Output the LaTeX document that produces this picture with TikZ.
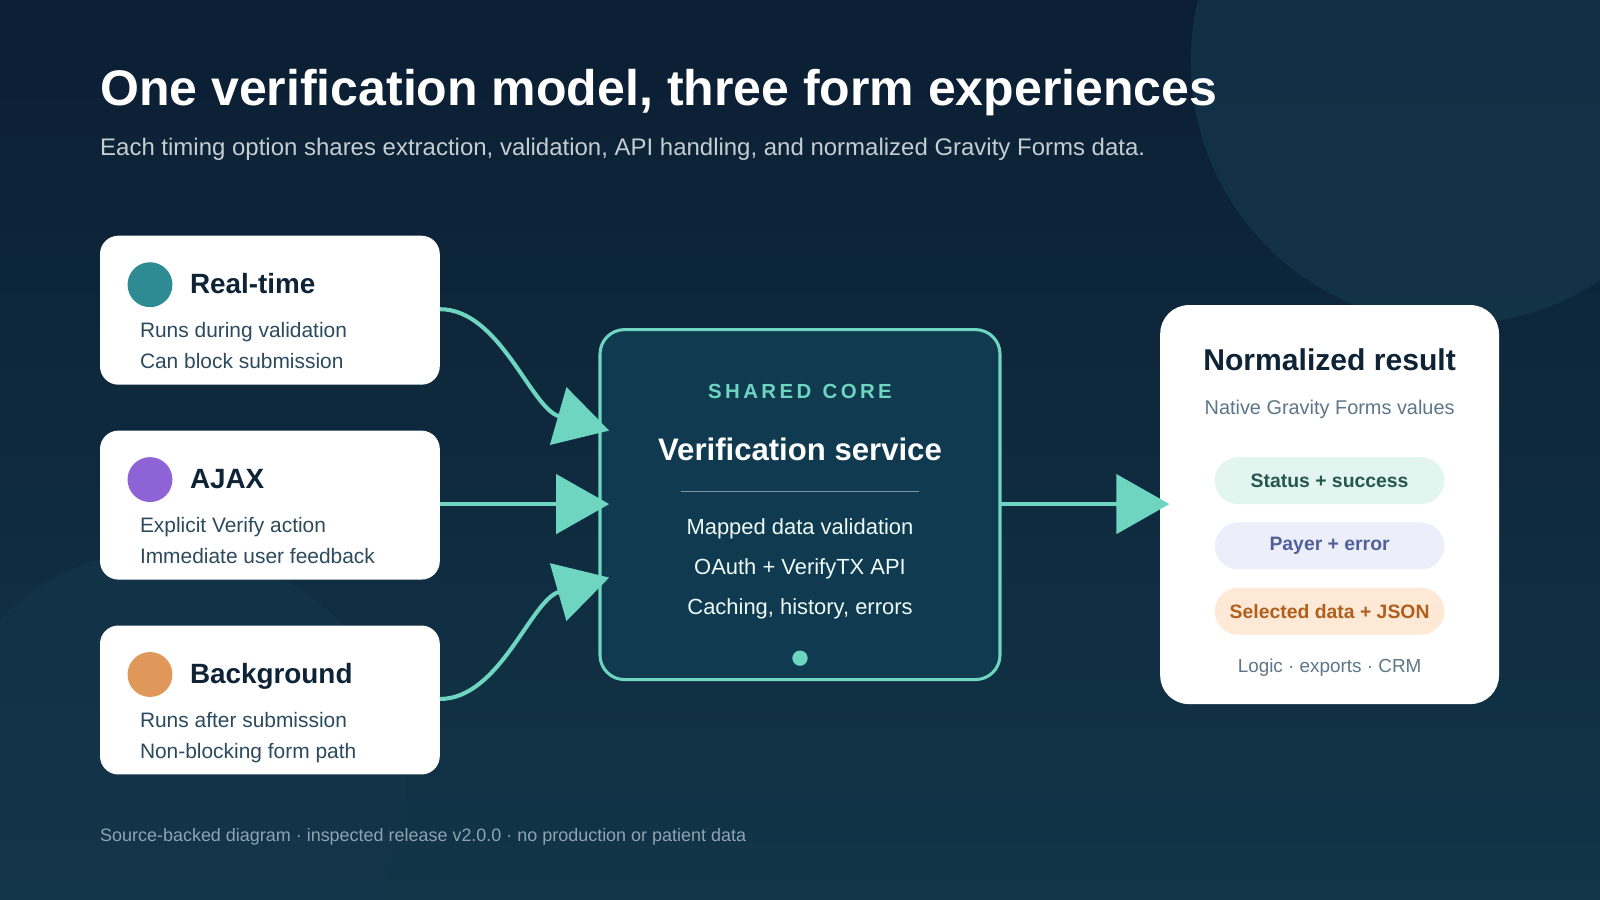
\documentclass[tikz,border=0pt]{standalone}
\usepackage{fontspec}
\setmainfont{Liberation Sans}
\usetikzlibrary{arrows.meta}
\definecolor{bgA}{HTML}{0B1E33}
\definecolor{bgB}{HTML}{123548}
\definecolor{deco}{HTML}{14354A}
\definecolor{ink}{HTML}{0F2336}
\definecolor{sub}{HTML}{2C4A5E}
\definecolor{teal}{HTML}{6DD5C0}
\definecolor{core}{HTML}{0F3A4F}
\definecolor{muted}{HTML}{8DA3B2}
\definecolor{dA}{HTML}{2E8B93}
\definecolor{dB}{HTML}{8E63D6}
\definecolor{dC}{HTML}{E0975A}
\definecolor{gr}{HTML}{5E7688}
\definecolor{pAf}{HTML}{E3F5EF}\definecolor{pAt}{HTML}{24584F}
\definecolor{pBf}{HTML}{ECEEF9}\definecolor{pBt}{HTML}{52609A}
\definecolor{pCf}{HTML}{FDE9D6}\definecolor{pCt}{HTML}{B0601C}
\tikzset{
 card/.style={fill=white,rounded corners=18pt,draw=none},
 ttl/.style={anchor=base west,font=\bfseries\fontsize{27.3}{30}\selectfont,text=ink,inner sep=0},
 txt/.style={anchor=base west,font=\fontsize{20.5}{22}\selectfont,text=sub,inner sep=0},
 flow/.style={draw=teal,line width=4pt,-{Triangle[length=52pt,width=58pt]}},
 item/.style={anchor=base,font=\fontsize{21.5}{24}\selectfont,text=white!88!teal,inner sep=0},
 pill/.style={rounded corners=23pt,minimum width=225pt,minimum height=46pt,font=\bfseries\fontsize{19}{22}\selectfont,inner sep=0}
}
\begin{document}
\begin{tikzpicture}[x=1pt,y=-1pt]
\shade[top color=bgA,bottom color=bgB] (0,0) rectangle (1568,882);
\useasboundingbox (0,0) rectangle (1568,882);
\begin{scope}
\clip (0,0) rectangle (1568,882);
\fill[deco,opacity=0.8] (1425,60) circle (258);
\fill[deco,opacity=0.7] (165,770) circle (232);
\end{scope}
\node[anchor=base west,inner sep=0,text=white,font=\bfseries\fontsize{49}{54}\selectfont] (title) at (98,103) {One verification model, three form experiences};
\node[anchor=base west,inner sep=0,text=white!75!bgB,font=\fontsize{23.5}{26}\selectfont] (subt) at (98,152) {Each timing option shares extraction, validation, API handling, and normalized Gravity Forms data.};
% cards
\path[card] (98,231) rectangle (431,377);
\path[card] (98,422) rectangle (431,568);
\path[card] (98,613) rectangle (431,759);
\coordinate (c1) at (431,303); \coordinate (c2) at (431,494); \coordinate (c3) at (431,685);
\fill[dA] (147,279) circle (22);
\fill[dB] (147,470) circle (22);
\fill[dC] (147,661) circle (22);
\node[ttl] (t1) at (186,288) {Real-time};
\node[txt] (a1) at (137,331) {Runs during validation};
\node[txt] (b1) at (137,361) {Can block submission};
\node[ttl] (t2) at (186,479) {AJAX};
\node[txt] (a2) at (137,522) {Explicit Verify action};
\node[txt] (b2) at (137,552) {Immediate user feedback};
\node[ttl] (t3) at (186,670) {Background};
\node[txt] (a3) at (137,713) {Runs after submission};
\node[txt] (b3) at (137,743) {Non-blocking form path};
% core
\draw[fill=core,draw=teal,line width=3pt,rounded corners=24pt] (588,323) rectangle (980,666);
\coordinate (k1) at (597,422); \coordinate (k2) at (597,494); \coordinate (k3) at (597,566); \coordinate (ko) at (980,494);
\node[anchor=base,inner sep=0,text=teal,font=\bfseries\fontsize{20}{24}\selectfont] (sc) at (784,391) {S\,H\,A\,R\,E\,D\ \ C\,O\,R\,E};
\node[anchor=base,inner sep=0,text=white,font=\bfseries\fontsize{30.5}{34}\selectfont] (vs) at (784,451) {Verification service};
\draw[white!45!core,line width=1.2pt] (667,482) -- (901,482);
\node[item] (i1) at (784,524) {Mapped data validation};
\node[item] (i2) at (784,563) {OAuth + VerifyTX API};
\node[item] (i3) at (784,602) {Caching, history, errors};
\fill[teal] (784,645) circle (7.5);
% result
\path[fill=white,rounded corners=28pt] (1137,299) rectangle (1469,690);
\coordinate (r) at (1146,494);
\node[anchor=base,inner sep=0,text=ink,font=\bfseries\fontsize{29.5}{32}\selectfont] (nr) at (1303,363) {Normalized result};
\node[anchor=base,inner sep=0,text=gr,font=\fontsize{19.5}{22}\selectfont] (nv) at (1303,406) {Native Gravity Forms values};
\node[pill,fill=pAf,text=pAt] (p1) at (1303,471) {Status + success};
\node[pill,fill=pBf,text=pBt] (p2) at (1303,535) {Payer + error};
\node[pill,fill=pCf,text=pCt] (p3) at (1303,599) {Selected data + JSON};
\node[anchor=base,inner sep=0,text=gr,font=\fontsize{18.5}{22}\selectfont] (lg) at (1303,659) {Logic · exports · CRM};
% arrows
\draw[flow] (c1) .. controls (490,303) and (520,400) .. (k1);
\draw[flow] (c2) -- (k2);
\draw[flow] (c3) .. controls (490,685) and (520,588) .. (k3);
\draw[flow] (ko) -- (r);
\node[anchor=base west,inner sep=0,text=muted,font=\fontsize{17.6}{20}\selectfont] (ft) at (98,825) {Source-backed diagram · inspected release v2.0.0 · no production or patient data};
\end{tikzpicture}
\end{document}
